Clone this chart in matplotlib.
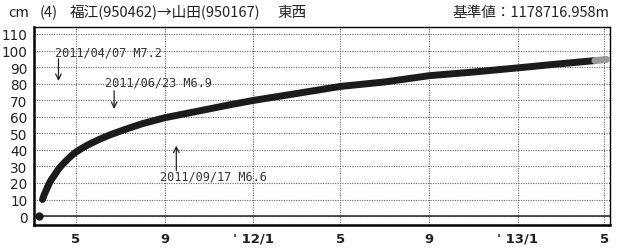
import datetime as dt
import matplotlib
matplotlib.use('Agg')
import matplotlib.pyplot as plt

# baseline change (cm), east-west component
dates = ['2011-03-16', '2011-03-18', '2011-03-21', '2011-03-23', '2011-03-26',
         '2011-03-29', '2011-04-02', '2011-04-05', '2011-04-09', '2011-04-14',
         '2011-04-20', '2011-04-25', '2011-04-30', '2011-05-10', '2011-05-21',
         '2011-06-03', '2011-06-17', '2011-07-08', '2011-08-01', '2011-09-01',
         '2011-10-15', '2011-12-01', '2012-01-01', '2012-03-01', '2012-05-01',
         '2012-07-01', '2012-09-01', '2012-11-01', '2013-01-01', '2013-03-01',
         '2013-04-18']
values = [10, 12.6, 15.5, 17.6, 20.4, 22.6, 25, 27.1, 29.4, 31.8,
          34.4, 36.5, 38.3, 41.1, 43.7, 46.4, 49.0, 52.3, 55.8, 59.4,
          63.2, 67.3, 69.8, 74.0, 78.3, 81.0, 84.8, 87.0, 89.5, 92.0,
          93.9]
# latest (preliminary) part, drawn in grey
prelim_dates = ['2013-04-18', '2013-05-04']
prelim_values = [93.9, 94.6]
# reference point before the quake
ref_date = '2011-03-11'
ref_value = 0

events = ['2011/04/07 M7.2', '2011/06/23 M6.9', '2011/09/17 M6.6']
event_dates = ['2011-04-07', '2011-06-23', '2011-09-17']

tick_dates = ['2011-05-01', '2011-09-01', '2012-01-01', '2012-05-01',
              '2012-09-01', '2013-01-01', '2013-05-01']
tick_labels = ['5', '9', "' 12/1", '5', '9', "' 13/1", '5']
yticks = list(range(0, 111, 10))


def d(s):
    return dt.datetime.strptime(s, '%Y-%m-%d')


W, H = 623, 251
fig = plt.figure(figsize=(W / 100, H / 100), dpi=100)
ax = fig.add_axes([34.3 / W, 1 - 226 / H, (610 - 34.3) / W, (226 - 28) / H])

t0 = d('2011-05-01')
ax.set_xlim(t0 - dt.timedelta(days=57.4), t0 + dt.timedelta(days=738.8))
ax.set_ylim(-5.4, 114.2)

ax.set_yticks(yticks)
ax.set_xticks([d(s) for s in tick_dates])
ax.set_xticklabels(tick_labels, fontweight='bold', fontsize=9.5)
ax.tick_params(axis='y', labelsize=9.8, length=0, pad=5, labelcolor='#222222')
ax.tick_params(axis='x', length=0, pad=5, labelcolor='#222222')
for lab in ax.get_yticklabels() + ax.get_xticklabels():
    lab.set_family(['Liberation Sans Narrow', 'DejaVu Sans'])

ax.grid(True, linestyle=(0, (1, 1.2)), linewidth=0.8, color='#666666')
ax.axhline(0, color='#333333', lw=1.2, zorder=2)
for sp in ax.spines.values():
    sp.set_linewidth(1.0)
ax.spines['left'].set_linewidth(1.8)
ax.spines['bottom'].set_linewidth(1.8)

ax.plot([d(s) for s in dates], values, color='#1c1a1a', lw=5.0,
        solid_capstyle='round', solid_joinstyle='round', zorder=4)
ax.plot([d(s) for s in prelim_dates], prelim_values, color='#9a9a9a', lw=5.0,
        solid_capstyle='round', zorder=5)
ax.plot([d(ref_date)], [ref_value], 'o', color='#1c1a1a', ms=5, zorder=5)

# event labels and arrows
mono = dict(family='DejaVu Sans Mono', fontsize=8.6, color='#333333', va='center')
ax.text(d('2011-04-02'), 99.3, events[0], **mono)
ax.text(d('2011-06-10'), 80.8, events[1], **mono)
ax.text(d('2011-08-26'), 24.4, events[2], **mono)
arr = dict(arrowstyle='->', color='#222222', lw=0.9, shrinkA=0, shrinkB=0)
ax.annotate('', xy=(d(event_dates[0]), 81.6), xytext=(d(event_dates[0]), 95.0), arrowprops=arr)
ax.annotate('', xy=(d(event_dates[1]), 64.7), xytext=(d(event_dates[1]), 75.7), arrowprops=arr)
ax.annotate('', xy=(d(event_dates[2]), 42.5), xytext=(d(event_dates[2]), 27.4), arrowprops=arr)

# header
jp = ['Noto Sans CJK JP', 'DejaVu Sans']
ty = 1 - 13 / H
hd = dict(family=jp, fontsize=10.5, va='center', color='#222222')
fig.text(8 / W, ty, 'cm', **hd)
fig.text(40 / W, ty, '(4)', **hd)
fig.text(70 / W, ty, '福江(950462)→山田(950167)', **hd)
fig.text(277 / W, ty, '東西', **hd)
fig.text(610 / W, ty, '基準値：1178716.958m', ha='right', **hd)

fig.savefig('out.png', dpi=100)
